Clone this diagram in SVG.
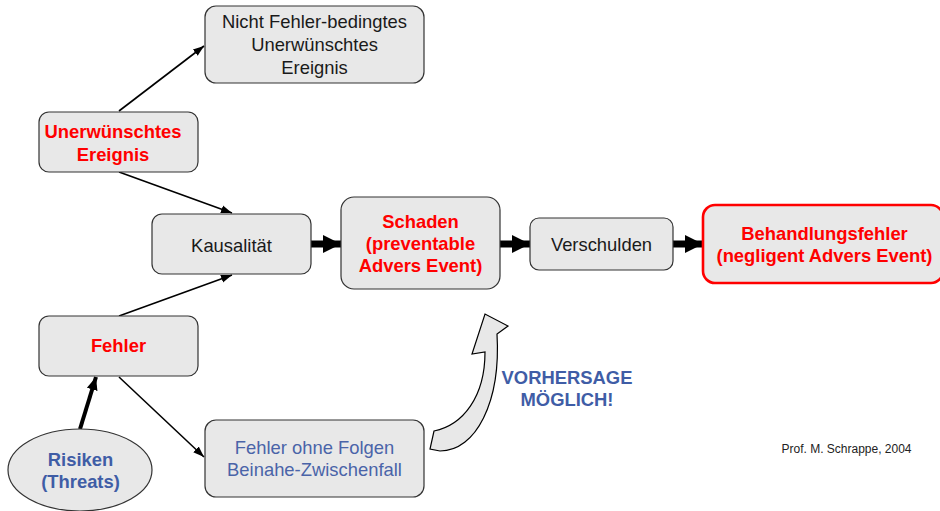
<svg xmlns="http://www.w3.org/2000/svg" width="940" height="511" viewBox="0 0 940 511">
  <style>
    .box { fill: #E8E8E8; stroke: #333333; stroke-width: 1.2; }
    .boxred { fill: #E8E8E8; stroke: #FF0000; stroke-width: 2.6; }
    .t { font-family: "Liberation Sans", Arial, sans-serif; font-size: 18.4px; text-anchor: middle; fill: #1a1a1a; }
    .red { font-weight: bold; fill: #FF0000; }
    .blue { fill: #4A64A8; }
    .blueb { font-weight: bold; fill: #3F5DA6; }
    .thin { stroke: #000; stroke-width: 1.6; fill: none; marker-end: url(#headThin); }
    .bold { stroke: #000; stroke-width: 4; fill: none; marker-end: url(#headBold); }
    .block { stroke: #000; stroke-width: 7; fill: none; marker-end: url(#headBlock); }
  </style>
  <defs>
    <marker id="headThin" markerUnits="userSpaceOnUse" markerWidth="12" markerHeight="10" refX="11" refY="5" orient="auto">
      <path d="M0,1 L11,5 L0,9 Z" fill="#000"/>
    </marker>
    <marker id="headBold" markerUnits="userSpaceOnUse" markerWidth="14" markerHeight="12" refX="13" refY="6" orient="auto">
      <path d="M0,0.5 L13,6 L0,11.5 Z" fill="#000"/>
    </marker>
    <marker id="headBlock" markerUnits="userSpaceOnUse" markerWidth="19" markerHeight="18" refX="18" refY="9" orient="auto">
      <path d="M0,0 L18,9 L0,18 Z" fill="#000"/>
    </marker>
  </defs>

  <!-- connectors -->
  <g id="connectors">
    <line class="thin" x1="119" y1="111" x2="204" y2="46"/>
    <line class="thin" x1="119" y1="172" x2="232" y2="213"/>
    <line class="thin" x1="119" y1="316" x2="232" y2="275"/>
    <line class="thin" x1="119" y1="377" x2="204" y2="457"/>
    <line class="bold" x1="80" y1="429" x2="96" y2="377"/>
    <line class="block" x1="311" y1="244" x2="341" y2="244"/>
    <line class="block" x1="500" y1="244" x2="530" y2="244"/>
    <line class="block" x1="673" y1="244" x2="703" y2="244"/>
    <!-- curved block arrow rising toward Schaden -->
    <path d="M434,431 C463,425 485,397 485,352 L472,354 L485,314 L508,326 L497,334 C501,402 476,451 440,451 L430,449 Z" fill="#E8E8E8" stroke="#000" stroke-width="1.2" stroke-linejoin="miter"/>
  </g>

  <g id="nicht-fehler">
    <rect class="box" x="205" y="6" width="219" height="77" rx="11"/>
    <text class="t" x="314.5" y="28">Nicht Fehler-bedingtes</text>
    <text class="t" x="314.5" y="51">Unerwünschtes</text>
    <text class="t" x="314.5" y="74">Ereignis</text>
  </g>

  <g id="unerwuenscht">
    <rect class="box" x="39" y="112" width="159" height="60" rx="10"/>
    <text class="t red" x="113" y="138">Unerwünschtes</text>
    <text class="t red" x="113" y="161">Ereignis</text>
  </g>

  <g id="kausalitaet">
    <rect class="box" x="152" y="214" width="159" height="60" rx="10"/>
    <text class="t" x="231.5" y="252">Kausalität</text>
  </g>

  <g id="schaden">
    <rect class="box" x="341" y="197" width="159" height="92" rx="13"/>
    <text class="t red" x="420.5" y="228">Schaden</text>
    <text class="t red" x="420.5" y="250">(preventable</text>
    <text class="t red" x="420.5" y="272">Advers Event)</text>
  </g>

  <g id="verschulden">
    <rect class="box" x="530" y="218" width="143" height="52" rx="9"/>
    <text class="t" x="601.5" y="251">Verschulden</text>
  </g>

  <g id="behandlungsfehler">
    <rect class="boxred" x="703" y="205" width="240" height="78" rx="12"/>
    <text class="t red" x="824.5" y="240">Behandlungsfehler</text>
    <text class="t red" x="824.5" y="262">(negligent Advers Event)</text>
  </g>

  <g id="fehler">
    <rect class="box" x="39" y="316" width="159" height="60" rx="10"/>
    <text class="t red" x="118.5" y="352">Fehler</text>
  </g>

  <g id="risiken">
    <ellipse cx="80" cy="470" rx="72" ry="41" fill="#E8E8E8" stroke="#333333" stroke-width="1.2"/>
    <text class="t blueb" x="80.5" y="466">Risiken</text>
    <text class="t blueb" x="80.5" y="488">(Threats)</text>
  </g>

  <g id="fehler-ohne-folgen">
    <rect class="box" x="205" y="420" width="219" height="77" rx="11"/>
    <text class="t blue" x="314.5" y="454">Fehler ohne Folgen</text>
    <text class="t blue" x="314.5" y="476">Beinahe-Zwischenfall</text>
  </g>

  <g id="vorhersage">
    <text class="t blueb" x="567" y="384">VORHERSAGE</text>
    <text class="t blueb" x="567" y="406">MÖGLICH!</text>
  </g>

  <text x="846.5" y="453" font-family="'Liberation Sans', Arial, sans-serif" font-size="12" text-anchor="middle" fill="#222">Prof. M. Schrappe, 2004</text>
</svg>
